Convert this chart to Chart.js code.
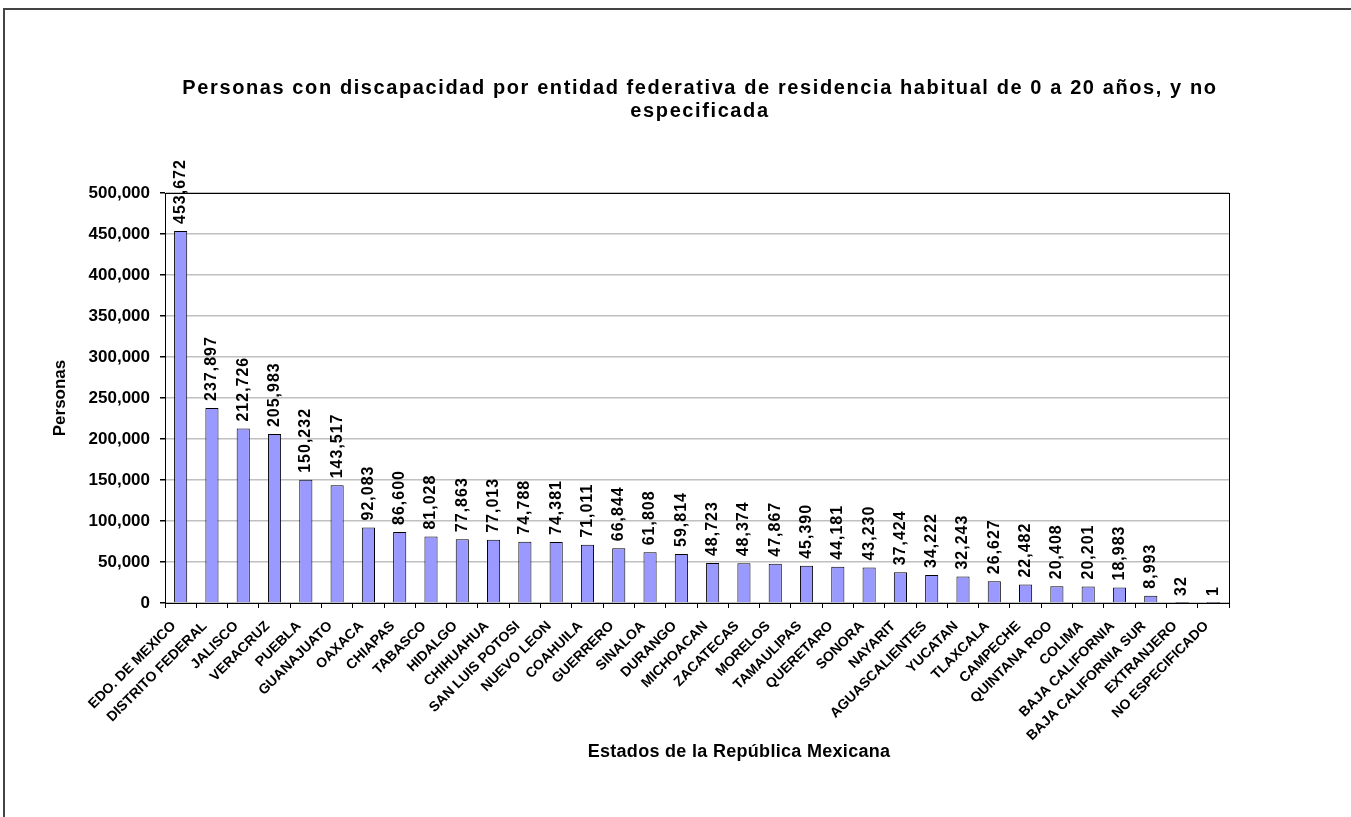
<!DOCTYPE html>
<html>
<head>
<meta charset="utf-8">
<script src="https://cdn.jsdelivr.net/npm/chart.js@4"></script>
<style>
  html, body { margin: 0; padding: 0; background: #fff; overflow: hidden; }
  #wrap { position: relative; width: 1351px; height: 817px; }
  #frame { position: absolute; left: 3px; top: 8px; width: 1400px; height: 900px; border: 2px solid #444; box-sizing: border-box; }
  canvas { position: absolute; left: 0; top: 0; }
</style>
</head>
<body>
<div id="wrap">
  <div id="frame"></div>
  <canvas id="myChart" width="1351" height="817"></canvas>
</div>
<script>
const states = ['EDO. DE MEXICO', 'DISTRITO FEDERAL', 'JALISCO', 'VERACRUZ', 'PUEBLA', 'GUANAJUATO',
    'OAXACA', 'CHIAPAS', 'TABASCO', 'HIDALGO', 'CHIHUAHUA', 'SAN LUIS POTOSI', 'NUEVO LEON',
    'COAHUILA', 'GUERRERO', 'SINALOA', 'DURANGO', 'MICHOACAN', 'ZACATECAS', 'MORELOS',
    'TAMAULIPAS', 'QUERETARO', 'SONORA', 'NAYARIT', 'AGUASCALIENTES', 'YUCATAN', 'TLAXCALA',
    'CAMPECHE', 'QUINTANA ROO', 'COLIMA', 'BAJA CALIFORNIA', 'BAJA CALIFORNIA SUR',
    'EXTRANJERO', 'NO ESPECIFICADO'];
const personas = [453672, 237897, 212726, 205983, 150232, 143517,
    92083, 86600, 81028, 77863, 77013, 74788, 74381,
    71011, 66844, 61808, 59814, 48723, 48374, 47867,
    45390, 44181, 43230, 37424, 34222, 32243, 26627,
    22482, 20408, 20201, 18983, 8993,
    32, 1];
const yMax = 500000;
const yStep = 50000;

const titleLines = ['Personas con discapacidad por entidad federativa de residencia habitual de 0 a 20 años, y no', 'especificada'];
const xTitle = 'Estados de la República Mexicana';

const FONT = '"Liberation Sans", Arial, sans-serif';
const ctx = document.getElementById('myChart').getContext('2d');

// value labels above the bars, plot-area box, chart title and x title
const barLabels = {
    id: 'barLabels',
    afterDatasetsDraw(chart) {
        const c = chart.ctx;
        const meta = chart.getDatasetMeta(0);
        c.save();
        c.font = 'bold 16px ' + FONT;
        c.letterSpacing = '1px';
        c.fillStyle = '#000';
        c.textAlign = 'left';
        c.textBaseline = 'middle';
        meta.data.forEach((bar, i) => {
            c.save();
            c.translate(bar.x, bar.y - 7);
            c.rotate(-Math.PI / 2);
            c.fillText(personas[i].toLocaleString('en-US'), 0, 0);
            c.restore();
        });
        c.restore();
    },
    afterDraw(chart) {
        const a = chart.chartArea;
        const c = chart.ctx;
        c.save();
        c.strokeStyle = '#000';
        c.lineWidth = 1;
        c.strokeRect(a.left + 0.5, a.top + 0.5, a.right - a.left, a.bottom - a.top);

        c.fillStyle = '#000';
        c.textAlign = 'center';
        c.textBaseline = 'middle';
        c.font = 'bold 20px ' + FONT;
        c.letterSpacing = '1.6px';
        c.fillText(titleLines[0], 700, 88);
        c.fillText(titleLines[1], 700, 111);

        c.font = 'bold 18px ' + FONT;
        c.letterSpacing = '0.3px';
        c.fillText(xTitle, 739, 752);
        c.restore();
    }
};

const config = {
    type: 'bar',
    data: {
        labels: states,
        datasets: [{
            data: personas,
            backgroundColor: '#9999ff',
            borderColor: '#000',
            borderWidth: 1,
            barPercentage: 0.42,
            categoryPercentage: 1
        }]
    },
    options: {
        responsive: false,
        animation: false,
        layout: {
            padding: { left: 50, right: 122, top: 193, bottom: 55 }
        },
        scales: {
            x: {
                afterFit(axis) { axis.height = 159; },
                grid: {
                    drawOnChartArea: false,
                    tickLength: 5,
                    tickColor: '#000',
                    offset: true
                },
                border: { color: '#000' },
                ticks: {
                    autoSkip: false,
                    minRotation: 45,
                    maxRotation: 45,
                    padding: 10,
                    labelOffset: -7,
                    color: '#000',
                    font: { family: FONT, size: 14, weight: 'bold' }
                }
            },
            y: {
                min: 0,
                max: yMax,
                afterFit(axis) { axis.width = 115; },
                grid: {
                    color: '#c0c0c0',
                    lineWidth: 1.5,
                    tickLength: 5,
                    tickColor: '#000'
                },
                border: { color: '#000' },
                ticks: {
                    stepSize: yStep,
                    padding: 10,
                    color: '#000',
                    font: { family: FONT, size: 17, weight: 'bold' },
                    callback: v => v.toLocaleString('en-US')
                },
                title: {
                    display: true,
                    text: 'Personas',
                    color: '#000',
                    padding: 0,
                    font: { family: FONT, size: 17, weight: 'bold' }
                }
            }
        },
        plugins: {
            legend: { display: false },
            tooltip: { enabled: false },
            title: { display: false }
        }
    },
    plugins: [barLabels]
};

const myChart = new Chart(ctx, config);
</script>
</body>
</html>
